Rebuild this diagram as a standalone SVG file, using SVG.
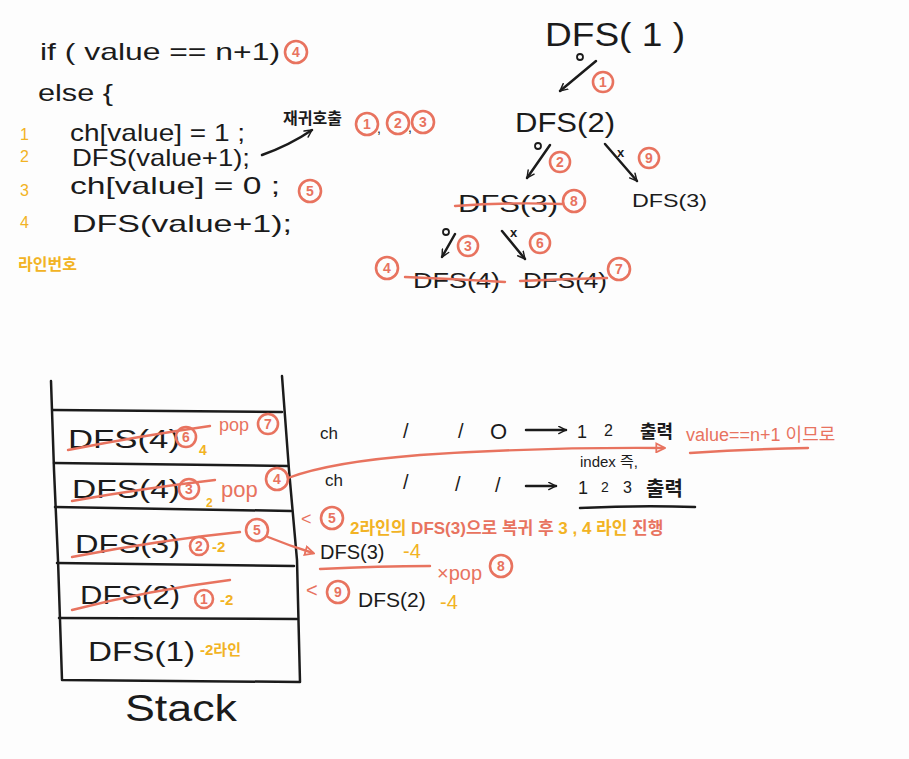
<svg xmlns="http://www.w3.org/2000/svg" width="909" height="759" viewBox="0 0 909 759">
<defs>
<style>
text{font-family:"Liberation Sans","Noto Sans CJK KR",sans-serif}
.k{fill:#1b1b1b}
.s{fill:#e8735f}
.y{fill:#f2b324}
.cn circle{fill:none;stroke:#e8735f;stroke-width:2.6}
.cn text{fill:#e8735f;font-size:14px;font-weight:bold;text-anchor:middle}
.ln{fill:none;stroke:#1b1b1b;stroke-width:2.5;stroke-linecap:round;stroke-linejoin:round}
.sl{fill:none;stroke:#e8735f;stroke-width:2.4;stroke-linecap:round;stroke-linejoin:round}
</style>
<marker id="ah" viewBox="0 0 10 10" refX="9" refY="5" markerWidth="9" markerHeight="9" orient="auto-start-reverse" markerUnits="userSpaceOnUse">
<path d="M1,1 L9,5 L1,9" fill="none" stroke="#1b1b1b" stroke-width="1.6" stroke-linecap="round"/>
</marker>
<marker id="ahs" viewBox="0 0 10 10" refX="8" refY="5" markerWidth="11" markerHeight="11" orient="auto" markerUnits="userSpaceOnUse">
<path d="M1,1 L9,5 L1,9 Z" fill="none" stroke="#e8735f" stroke-width="1.6"/>
</marker>
</defs>
<rect width="909" height="759" fill="#fdfdfd"/>

<g id="code">
<text class="k" x="40" y="60" font-size="24" textLength="240" lengthAdjust="spacingAndGlyphs">if ( value == n+1)</text>
<g class="cn"><circle cx="296" cy="52" r="11"/><text x="296" y="57">4</text></g>
<text class="k" x="38" y="101" font-size="24" textLength="75" lengthAdjust="spacingAndGlyphs">else {</text>
<text class="y" x="20" y="140" font-size="16">1</text>
<text class="k" x="70" y="141" font-size="24" textLength="175" lengthAdjust="spacingAndGlyphs">ch[value] = 1 ;</text>
<text class="y" x="20" y="162" font-size="16">2</text>
<text class="k" x="72" y="166" font-size="24" textLength="178" lengthAdjust="spacingAndGlyphs">DFS(value+1);</text>
<text class="y" x="20" y="196" font-size="16">3</text>
<text class="k" x="70" y="194" font-size="24" textLength="210" lengthAdjust="spacingAndGlyphs">ch[value] = 0 ;</text>
<g class="cn"><circle cx="310" cy="191" r="11"/><text x="310" y="196">5</text></g>
<text class="y" x="20" y="228" font-size="16">4</text>
<text class="k" x="72" y="232" font-size="24" textLength="220" lengthAdjust="spacingAndGlyphs">DFS(value+1);</text>
<text class="y" x="18" y="270" font-size="16" font-weight="bold">라인번호</text>
</g>

<g id="recursion-note">
<text class="k" x="283" y="124" font-size="16" font-weight="bold">재귀호출</text>
<g class="cn"><circle cx="367" cy="124" r="11"/><text x="367" y="129">1</text></g>
<text class="k" x="377" y="133" font-size="14">,</text>
<g class="cn"><circle cx="398" cy="123" r="11"/><text x="398" y="128">2</text></g>
<text class="k" x="408" y="132" font-size="14">,</text>
<g class="cn"><circle cx="423" cy="122" r="11"/><text x="423" y="127">3</text></g>
</g>

<g id="tree-dfs1"><text class="k" x="545" y="46" font-size="34" textLength="140" lengthAdjust="spacingAndGlyphs">DFS( 1 )</text></g>
<g id="tree-dfs2"><text class="k" x="515" y="132" font-size="28" textLength="100" lengthAdjust="spacingAndGlyphs">DFS(2)</text></g>
<g id="tree-dfs3a">
<text class="k" x="458" y="212" font-size="24" textLength="100" lengthAdjust="spacingAndGlyphs">DFS(3)</text>
<path class="sl" d="M455,206 Q510,202 562,204"/>
<g class="cn"><circle cx="574" cy="201" r="11"/><text x="574" y="206">8</text></g>
</g>
<g id="tree-dfs3b"><text class="k" x="632" y="207" font-size="18" textLength="75" lengthAdjust="spacingAndGlyphs">DFS(3)</text></g>
<g id="tree-dfs4a">
<g class="cn"><circle cx="387" cy="268" r="11"/><text x="387" y="273">4</text></g>
<text class="k" x="413" y="288" font-size="22" textLength="87" lengthAdjust="spacingAndGlyphs">DFS(4)</text>
<path class="sl" d="M405,277 Q455,279 505,282"/>
</g>
<g id="tree-dfs4b">
<text class="k" x="523" y="288" font-size="22" textLength="84" lengthAdjust="spacingAndGlyphs">DFS(4)</text>
<path class="sl" d="M520,281 Q565,279 607,278"/>
<g class="cn"><circle cx="619" cy="269" r="11"/><text x="619" y="274">7</text></g>
</g>

<g id="connectors">
<path class="ln" d="M262,155 Q290,145 312,130" marker-end="url(#ah)"/>
<path class="ln" d="M596,61 L560,91" marker-end="url(#ah)"/>
<circle cx="580" cy="57" r="3" fill="none" stroke="#1b1b1b" stroke-width="1.8"/>
<g class="cn"><circle cx="603" cy="82" r="10"/><text x="603" y="87">1</text></g>
<path class="ln" d="M550,145 L527,178" marker-end="url(#ah)"/>
<circle cx="538" cy="146" r="3" fill="none" stroke="#1b1b1b" stroke-width="1.8"/>
<g class="cn"><circle cx="560" cy="162" r="10"/><text x="560" y="167">2</text></g>
<path class="ln" d="M605,144 L637,181" marker-end="url(#ah)"/>
<text class="k" x="617" y="157" font-size="13" font-weight="bold">x</text>
<g class="cn"><circle cx="649" cy="158" r="10"/><text x="649" y="163">9</text></g>
<path class="ln" d="M455,234 L442,257" marker-end="url(#ah)"/>
<circle cx="446" cy="232" r="3" fill="none" stroke="#1b1b1b" stroke-width="1.8"/>
<g class="cn"><circle cx="468" cy="246" r="10"/><text x="468" y="251">3</text></g>
<path class="ln" d="M502,231 L525,259" marker-end="url(#ah)"/>
<text class="k" x="510" y="237" font-size="13" font-weight="bold">x</text>
<g class="cn"><circle cx="540" cy="243" r="10"/><text x="540" y="248">6</text></g>
</g>

<g id="stack">
<path class="ln" d="M51,381 L54,470 L58,560 L62,680 L300,682 L297,560 L289,470 L282,376"/>
<path class="ln" d="M53,410 L282,412"/>
<path class="ln" d="M54,463 L288,466"/>
<path class="ln" d="M55,507 L291,511"/>
<path class="ln" d="M57,563 L294,566"/>
<path class="ln" d="M59,618 L297,619"/>
</g>

<g id="row-dfs4-top">
<text class="k" x="68" y="448" font-size="26" textLength="112" lengthAdjust="spacingAndGlyphs">DFS(4)</text>
<path class="sl" d="M68,450 Q140,436 210,426"/>
<g class="cn"><circle cx="186" cy="437" r="10"/><text x="186" y="442">6</text></g>
<text class="y" x="199" y="455" font-size="14" font-weight="bold">4</text>
<text class="s" x="219" y="431" font-size="18">pop</text>
<g class="cn"><circle cx="268" cy="424" r="10"/><text x="268" y="429">7</text></g>
</g>
<g id="row-dfs4">
<text class="k" x="72" y="498" font-size="26" textLength="108" lengthAdjust="spacingAndGlyphs">DFS(4)</text>
<path class="sl" d="M72,501 Q145,488 215,480"/>
<g class="cn"><circle cx="189" cy="489" r="10"/><text x="189" y="494">3</text></g>
<text class="y" x="206" y="507" font-size="12" font-weight="bold">2</text>
<text class="s" x="221" y="497" font-size="22">pop</text>
<g class="cn"><circle cx="277" cy="479" r="11"/><text x="277" y="484">4</text></g>
</g>
<g id="row-dfs3">
<text class="k" x="75" y="553" font-size="26" textLength="105" lengthAdjust="spacingAndGlyphs">DFS(3)</text>
<path class="sl" d="M72,557 Q160,540 240,532"/>
<g class="cn"><circle cx="199" cy="546" r="9"/><text x="199" y="551">2</text></g>
<text class="y" x="212" y="552" font-size="15" font-weight="bold">-2</text>
<g class="cn"><circle cx="257" cy="530" r="11"/><text x="257" y="535">5</text></g>
</g>
<g id="row-dfs2">
<text class="k" x="80" y="604" font-size="26" textLength="100" lengthAdjust="spacingAndGlyphs">DFS(2)</text>
<path class="sl" d="M72,610 Q150,590 230,580"/>
<g class="cn"><circle cx="204" cy="599" r="9"/><text x="204" y="604">1</text></g>
<text class="y" x="220" y="605" font-size="15" font-weight="bold">-2</text>
</g>
<g id="row-dfs1">
<text class="k" x="88" y="661" font-size="28" textLength="107" lengthAdjust="spacingAndGlyphs">DFS(1)</text>
<text class="y" x="200" y="655" font-size="15" font-weight="bold">-2라인</text>
</g>
<g id="stack-label"><text class="k" x="125" y="721" font-size="36" textLength="112" lengthAdjust="spacingAndGlyphs">Stack</text></g>

<g id="ch-row1">
<text class="k" x="320" y="439" font-size="17">ch</text>
<text class="k" x="403" y="438" font-size="20">/</text>
<text class="k" x="458" y="438" font-size="20">/</text>
<text class="k" x="490" y="439" font-size="22">O</text>
<path class="ln" d="M526,430 L566,430" marker-end="url(#ah)"/>
<text class="k" x="577" y="438" font-size="18">1</text>
<text class="k" x="604" y="436" font-size="16">2</text>
<text class="k" x="640" y="438" font-size="18" font-weight="bold">출력</text>
</g>
<g id="note-value">
<text class="s" x="686" y="441" font-size="18">value==n+1 이므로</text>
<path class="sl" d="M690,453 Q750,449 808,448"/>
</g>
<g id="index-note"><text class="k" x="580" y="467" font-size="15">index 즉,</text></g>
<g id="ch-row2">
<text class="k" x="325" y="486" font-size="17">ch</text>
<text class="k" x="403" y="489" font-size="20">/</text>
<text class="k" x="455" y="491" font-size="20">/</text>
<text class="k" x="495" y="492" font-size="20">/</text>
<path class="ln" d="M526,486 L556,486" marker-end="url(#ah)"/>
<text class="k" x="578" y="494" font-size="18">1</text>
<text class="k" x="601" y="492" font-size="14">2</text>
<text class="k" x="623" y="493" font-size="16">3</text>
<text class="k" x="646" y="496" font-size="20" font-weight="bold">출력</text>
<path class="ln" d="M580,508 Q640,505 695,507"/>
</g>
<g id="return-note">
<text class="s" x="301" y="525" font-size="18">&lt;</text>
<g class="cn"><circle cx="332" cy="518" r="11"/><text x="332" y="523">5</text></g>
<text x="350" y="534" font-size="17" font-weight="bold"><tspan class="y">2라인의 </tspan><tspan class="s">DFS(3)으로 복귀 후 </tspan><tspan class="y">3 , 4 라인 </tspan><tspan class="s">진행</tspan></text>
</g>
<g id="dfs3-line4">
<text class="k" x="320" y="559" font-size="20">DFS(3)</text>
<text class="y" x="403" y="558" font-size="20">-4</text>
<path class="sl" d="M320,569 Q380,566 430,566"/>
<text class="s" x="437" y="580" font-size="20">×pop</text>
<g class="cn"><circle cx="501" cy="566" r="11"/><text x="501" y="571">8</text></g>
</g>
<g id="dfs2-line4">
<text class="s" x="306" y="597" font-size="20">&lt;</text>
<g class="cn"><circle cx="338" cy="592" r="11"/><text x="338" y="597">9</text></g>
<text class="k" x="358" y="607" font-size="21">DFS(2)</text>
<text class="y" x="440" y="609" font-size="20">-4</text>
</g>

<g id="stack-connectors">
<path class="sl" d="M288,478 Q330,462 420,455 Q540,447 664,448" marker-end="url(#ahs)"/>
<path class="sl" d="M268,537 Q290,546 313,553" marker-end="url(#ahs)"/>
</g>
</svg>
